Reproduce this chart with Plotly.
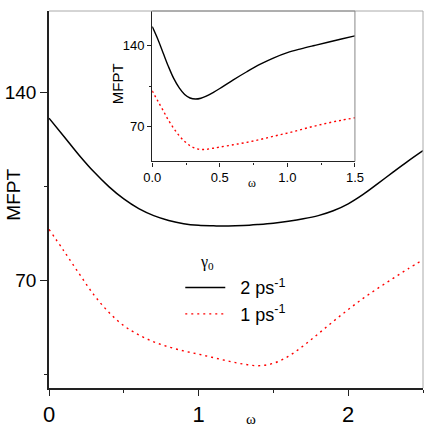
import plotly.graph_objects as go

# Main panel data
main_w = [0, 0.1, 0.2, 0.3, 0.4, 0.5, 0.6, 0.7, 0.8, 0.9, 1.0, 1.1, 1.2, 1.3, 1.4, 1.5, 1.6, 1.7, 1.8, 1.9, 2.0, 2.1, 2.2, 2.3, 2.4, 2.5]
main_y_black = [130.3, 123.5, 116.6, 110.3, 104.8, 100.2, 96.6, 94.0, 92.2, 91.0, 90.4, 90.2, 90.1, 90.3, 90.7, 91.2, 91.9, 92.8,
                94.0, 95.8, 98.4, 101.9, 106.0, 110.2, 114.3, 118.2]
main_y_red = [88.9, 80.8, 72.5, 64.5, 58.0, 53.0, 49.6, 47.0, 45.1, 43.6, 42.4, 41.1, 39.8, 38.7, 38.1, 39.0, 41.6, 45.5,
              50.0, 54.6, 59.0, 63.2, 67.0, 70.6, 74.2, 77.5]

# Inset data
ins_w = [0, 0.04, 0.08, 0.12, 0.16, 0.2, 0.24, 0.28, 0.32, 0.36, 0.4, 0.45, 0.5, 0.6, 0.7, 0.8, 0.9, 1.0, 1.1, 1.2, 1.3, 1.4, 1.5]
ins_y_black = [156.5, 146.0, 134.0, 122.0, 111.5, 103.5, 97.8, 94.8, 93.9, 94.6, 96.4, 99.5, 103.0, 110.5, 117.5, 124.0,
               129.5, 134.0, 137.3, 140.2, 143.0, 145.8, 148.5]
ins_y_red = [101.0, 92.5, 84.2, 75.6, 68.4, 62.2, 57.3, 53.6, 51.3, 50.4, 50.5, 51.4, 52.4, 54.4, 56.5, 59.0,
             61.8, 64.5, 67.5, 70.5, 73.2, 75.6, 77.7]

series_names = ["\u00a0\u00a02 ps<sup>-1</sup>", "\u00a0\u00a01 ps<sup>-1</sup>"]

FONT = "Liberation Sans, Arial, sans-serif"
SERIF = "Liberation Serif, Times New Roman, serif"

fig = go.Figure()
fig.add_trace(go.Scatter(x=main_w, y=main_y_black, mode="lines", line=dict(color="black", width=1.5, shape="spline", smoothing=1),
                         name=series_names[0], xaxis="x", yaxis="y"))
fig.add_trace(go.Scatter(x=main_w, y=main_y_red, mode="lines", line=dict(color="red", width=1.4, shape="spline", smoothing=1, dash="2px,4px"),
                         name=series_names[1], xaxis="x", yaxis="y"))
fig.add_trace(go.Scatter(x=ins_w, y=ins_y_black, mode="lines", line=dict(color="black", width=1.4, shape="spline", smoothing=1),
                         showlegend=False, xaxis="x2", yaxis="y2"))
fig.add_trace(go.Scatter(x=ins_w, y=ins_y_red, mode="lines", line=dict(color="red", width=1.4, shape="spline", smoothing=1, dash="2px,3px"),
                         showlegend=False, xaxis="x2", yaxis="y2"))

axcol = "#222222"
fig.update_layout(
    width=437, height=432,
    margin=dict(l=48, r=5, t=11, b=40),
    plot_bgcolor="white", paper_bgcolor="white",
    font=dict(family=FONT, color="black"),
    xaxis=dict(domain=[0, 1], range=[0, 2.5], anchor="y", dtick=1, tick0=0, showgrid=False, zeroline=False,
               showline=True, linecolor=axcol, linewidth=1.5, ticks="outside", ticklen=6, tickwidth=1.3, tickcolor=axcol,
               tickfont=dict(size=22, family=FONT),
               minor=dict(dtick=0.5, tick0=0, ticks="outside", ticklen=3, tickcolor=axcol, showgrid=False)),
    yaxis=dict(domain=[0, 1], range=[29.8, 170.2], anchor="x", dtick=70, tick0=0, showgrid=False, zeroline=False,
               showline=True, linecolor=axcol, linewidth=1.5, ticks="outside", ticklen=7, tickwidth=1.3, tickcolor=axcol,
               tickfont=dict(size=19, family=FONT),
               minor=dict(dtick=35, tick0=0, ticks="outside", ticklen=3, tickcolor=axcol, showgrid=False)),
    xaxis2=dict(domain=[0.276, 0.818], range=[0, 1.5], anchor="y2", dtick=0.5, tick0=0, tickformat=".1f", showgrid=False,
                zeroline=False, showline=True, linecolor=axcol, linewidth=1.2, ticks="outside", ticklen=4, tickcolor=axcol,
                tickfont=dict(size=13, family=FONT),
                minor=dict(dtick=0.25, tick0=0, ticks="outside", ticklen=2, tickcolor=axcol, showgrid=False)),
    yaxis2=dict(domain=[0.601, 1.0], range=[40, 170], anchor="x2", dtick=70, tick0=0, showgrid=False, zeroline=False,
                showline=True, linecolor=axcol, linewidth=1.2, ticks="outside", ticklen=4, tickcolor=axcol,
                tickfont=dict(size=13, family=FONT),
                minor=dict(dtick=35, tick0=0, ticks="outside", ticklen=2, tickcolor=axcol, showgrid=False)),
    showlegend=True,
    legend=dict(x=0.351, y=0.315, xanchor="left", yanchor="top", bgcolor="rgba(0,0,0,0)",
                font=dict(size=18, family=FONT), itemwidth=40, tracegroupgap=0),
    shapes=[
        dict(type="line", xref="paper", yref="paper", x0=0, x1=1, y0=1, y1=1, line=dict(color="#aaaaaa", width=1)),
        dict(type="line", xref="paper", yref="paper", x0=1, x1=1, y0=0, y1=1, line=dict(color="#aaaaaa", width=1)),
        dict(type="line", xref="x2 domain", yref="y2 domain", x0=0, x1=1, y0=1, y1=1, line=dict(color="#888888", width=1)),
        dict(type="line", xref="x2 domain", yref="y2 domain", x0=1, x1=1, y0=0, y1=1, line=dict(color="#888888", width=1)),
    ],
    annotations=[
        dict(text="MFPT", textangle=-90, xref="paper", yref="paper", x=-0.095, y=0.514, showarrow=False,
             xanchor="center", yanchor="middle", font=dict(size=19, family=FONT)),
        dict(text="ω", xref="paper", yref="paper", x=0.539, y=-0.081, showarrow=False,
             xanchor="center", yanchor="middle", font=dict(size=15, family=SERIF)),
        dict(text="MFPT", textangle=-90, xref="paper", yref="paper", x=0.182, y=0.806, showarrow=False,
             xanchor="center", yanchor="middle", font=dict(size=15, family=FONT)),
        dict(text="ω", xref="paper", yref="paper", x=0.544, y=0.543, showarrow=False,
             xanchor="center", yanchor="middle", font=dict(size=12, family=SERIF)),
        dict(text="γ<sub>0</sub>", xref="paper", yref="paper", x=0.422, y=0.333, showarrow=False,
             xanchor="center", yanchor="middle", font=dict(size=16, family=SERIF)),
    ],
)

fig.write_html("out.html", config={"displayModeBar": False},
               post_script="document.body.style.margin='0px';")
